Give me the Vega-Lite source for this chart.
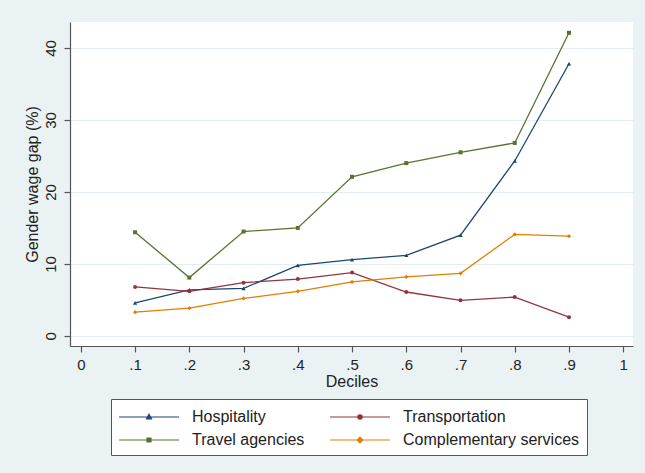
{
  "$schema": "https://vega.github.io/schema/vega-lite/v6.json",
  "width": 563,
  "height": 324,
  "autosize": {"type": "none"},
  "padding": {"left": 70, "right": 12, "top": 22, "bottom": 127},
  "background": "#eaf2f3",
  "config": {
    "view": {"fill": "white", "stroke": null},
    "font": "Liberation Sans",
    "axis": {
      "labelFont": "Liberation Sans",
      "titleFont": "Liberation Sans",
      "labelFontSize": 15,
      "titleFontSize": 16,
      "titleFontWeight": "normal",
      "labelColor": "#222",
      "titleColor": "#222",
      "domainColor": "#555",
      "tickColor": "#555",
      "domainWidth": 1.2,
      "tickWidth": 1.2,
      "tickSize": 6,
      "gridColor": "#e4eef1",
      "gridWidth": 1
    }
  },
  "data": {
    "values": [
      {"decile": 0.1, "sector": "Hospitality", "gap": 4.6},
      {"decile": 0.2, "sector": "Hospitality", "gap": 6.4},
      {"decile": 0.3, "sector": "Hospitality", "gap": 6.6},
      {"decile": 0.4, "sector": "Hospitality", "gap": 9.8},
      {"decile": 0.5, "sector": "Hospitality", "gap": 10.6},
      {"decile": 0.6, "sector": "Hospitality", "gap": 11.2},
      {"decile": 0.7, "sector": "Hospitality", "gap": 14.0},
      {"decile": 0.8, "sector": "Hospitality", "gap": 24.3},
      {"decile": 0.9, "sector": "Hospitality", "gap": 37.8},
      {"decile": 0.1, "sector": "Transportation", "gap": 6.8},
      {"decile": 0.2, "sector": "Transportation", "gap": 6.2},
      {"decile": 0.3, "sector": "Transportation", "gap": 7.4},
      {"decile": 0.4, "sector": "Transportation", "gap": 7.9},
      {"decile": 0.5, "sector": "Transportation", "gap": 8.8},
      {"decile": 0.6, "sector": "Transportation", "gap": 6.1},
      {"decile": 0.7, "sector": "Transportation", "gap": 4.95},
      {"decile": 0.8, "sector": "Transportation", "gap": 5.4},
      {"decile": 0.9, "sector": "Transportation", "gap": 2.6},
      {"decile": 0.1, "sector": "Travel agencies", "gap": 14.4},
      {"decile": 0.2, "sector": "Travel agencies", "gap": 8.1},
      {"decile": 0.3, "sector": "Travel agencies", "gap": 14.5},
      {"decile": 0.4, "sector": "Travel agencies", "gap": 15.0},
      {"decile": 0.5, "sector": "Travel agencies", "gap": 22.1},
      {"decile": 0.6, "sector": "Travel agencies", "gap": 24.0},
      {"decile": 0.7, "sector": "Travel agencies", "gap": 25.5},
      {"decile": 0.8, "sector": "Travel agencies", "gap": 26.8},
      {"decile": 0.9, "sector": "Travel agencies", "gap": 42.1},
      {"decile": 0.1, "sector": "Complementary services", "gap": 3.3},
      {"decile": 0.2, "sector": "Complementary services", "gap": 3.85},
      {"decile": 0.3, "sector": "Complementary services", "gap": 5.2},
      {"decile": 0.4, "sector": "Complementary services", "gap": 6.2},
      {"decile": 0.5, "sector": "Complementary services", "gap": 7.5},
      {"decile": 0.6, "sector": "Complementary services", "gap": 8.2},
      {"decile": 0.7, "sector": "Complementary services", "gap": 8.7},
      {"decile": 0.8, "sector": "Complementary services", "gap": 14.1},
      {"decile": 0.9, "sector": "Complementary services", "gap": 13.85}
    ]
  },
  "encoding": {
    "x": {
      "field": "decile",
      "type": "quantitative",
      "scale": {"domain": [-0.02, 1.018], "nice": false, "zero": false},
      "axis": {
        "title": "Deciles",
        "values": [0, 0.1, 0.2, 0.3, 0.4, 0.5, 0.6, 0.7, 0.8, 0.9, 1],
        "labelExpr": "datum.value == 0 ? '0' : datum.value == 1 ? '1' : '.' + round(datum.value * 10)",
        "grid": false,
        "labelPadding": 5,
        "titlePadding": 1,
        "labelFlush": false
      }
    },
    "y": {
      "field": "gap",
      "type": "quantitative",
      "scale": {"domain": [-1.4, 43.6], "nice": false, "zero": false},
      "axis": {
        "title": "Gender wage gap (%)",
        "values": [0, 10, 20, 30, 40],
        "labelAngle": 270,
        "labelAlign": "center",
        "labelBaseline": "bottom",
        "labelPadding": 6,
        "titlePadding": 3,
        "grid": true,
        "labelFlush": false
      }
    },
    "color": {
      "field": "sector",
      "type": "nominal",
      "scale": {
        "domain": ["Hospitality", "Transportation", "Travel agencies", "Complementary services"],
        "range": ["#1a476f", "#90353b", "#55752f", "#e37e00"]
      },
      "legend": {
        "title": null,
        "orient": "none",
        "legendX": 41,
        "legendY": 377,
        "direction": "horizontal",
        "columns": 2,
        "padding": 7,
        "strokeColor": "#555",
        "fillColor": "white",
        "labelFont": "Liberation Sans",
        "labelFontSize": 16,
        "labelLimit": 400,
        "labelColor": "#222",
        "labelOffset": 52,
        "columnPadding": 22,
        "rowPadding": 4,
        "symbolSize": 400,
        "symbolStrokeWidth": 1.2,
        "symbolOffset": 0,
        "symbolType": "M-1,0H5M1.8,-0.2H2.2V0.2H1.8Z",
        "encode": {
          "symbols": {
            "update": {
              "shape": {"signal": "datum.value == 'Hospitality' ? 'M-1,0H5M2,-0.28L2.25,0.18H1.75Z' : datum.value == 'Transportation' ? 'M-1,0H5M1.78,0A0.22,0.22,0,1,0,2.22,0A0.22,0.22,0,1,0,1.78,0Z' : datum.value == 'Travel agencies' ? 'M-1,0H5M1.8,-0.2H2.2V0.2H1.8Z' : 'M-1,0H5M2,-0.28L2.28,0L2,0.28L1.72,0Z'"},
              "fill": {"scale": "color", "field": "value"},
              "stroke": {"scale": "color", "field": "value"},
              "opacity": {"value": 1}
            }
          }
        }
      }
    }
  },
  "layer": [
    {
      "mark": {"type": "line", "strokeWidth": 1.3}
    },
    {
      "transform": [{"filter": "datum.sector == 'Hospitality'"}],
      "mark": {"type": "point", "filled": true, "size": 18, "opacity": 1, "shape": "triangle-up"}
    },
    {
      "transform": [{"filter": "datum.sector == 'Transportation'"}],
      "mark": {"type": "point", "filled": true, "size": 16, "opacity": 1, "shape": "circle"}
    },
    {
      "transform": [{"filter": "datum.sector == 'Travel agencies'"}],
      "mark": {"type": "point", "filled": true, "size": 16, "opacity": 1, "shape": "square"}
    },
    {
      "transform": [{"filter": "datum.sector == 'Complementary services'"}],
      "mark": {"type": "point", "filled": true, "size": 18, "opacity": 1, "shape": "diamond"}
    }
  ]
}
